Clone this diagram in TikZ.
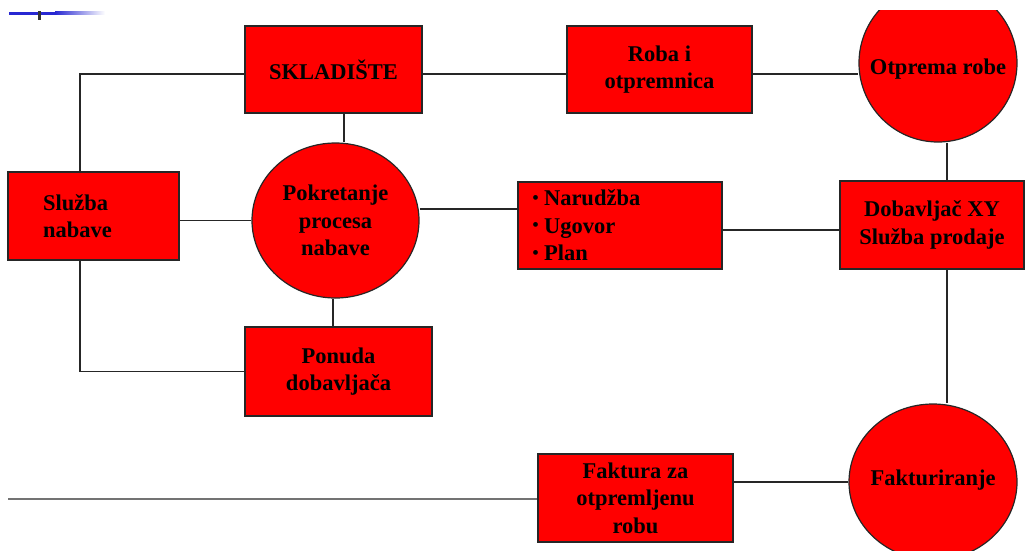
\documentclass[tikz,border=0pt]{standalone}
\usepackage{fontspec}
\setmainfont{Liberation Serif}
\usetikzlibrary{shapes.geometric}
\definecolor{boxred}{RGB}{255,0,0}
\definecolor{artblue}{RGB}{40,40,210}
\newcommand{\smbul}{\raisebox{1.5pt}{\mdseries\fontsize{20}{20}\selectfont•}\hspace{5pt}}
\begin{document}
\begin{tikzpicture}[x=1pt,y=-1pt,
  txt/.style={font=\bfseries\fontsize{22.5}{27.5}\selectfont, align=center, text=black},
  box/.style={txt, draw=black!85, line width=1.2pt, fill=boxred, inner sep=0pt},
  circ/.style={ellipse, draw=black!85, line width=1.2pt, fill=boxred, inner sep=0pt},
  conn/.style={line width=1.3pt, draw=black!85},
  grayline/.style={line width=2.8pt, draw=black!55}]
\useasboundingbox (0,0) rectangle (1026,550);
% slide artefact top left
\fill[artblue] (9,11.5) rectangle (55,14.5);
\shade[left color=artblue, right color=white] (55,11.5) rectangle (105,14.5);
\fill[black!80] (37.5,10.5) rectangle (40.5,20);
\begin{scope}
\clip (0,10) rectangle (1026,550);
\node[box, minimum width=177pt, minimum height=87pt] (skl) at (333.5,69.5) {SKLADIŠTE};
\node[box, minimum width=185pt, minimum height=87pt] (roba) at (659.5,69.5) {Roba i\\otpremnica};
\node[circ, minimum width=158pt, minimum height=158pt,
  label={[txt, yshift=-6pt]center:Otprema robe}] (otp) at (938,63) {};
\node[box, align=left, text width=101pt, inner xsep=35pt, minimum height=88pt] (sluz) at (93.5,216) {Služba\\nabave};
\node[circ, minimum width=167pt, minimum height=155pt,
  label={[txt]center:Pokretanje\\procesa\\nabave}] (pok) at (335.5,220.5) {};
\node[box, align=left, text width=176pt, inner xsep=14pt, minimum height=87pt] (nar) at (620,225.5)
  {\smbul Narudžba\\\smbul Ugovor\\\smbul Plan};
\node[box, minimum width=184pt, minimum height=88pt] (dob) at (932,225) {Dobavljač XY\\Služba prodaje};
\node[box, minimum width=187pt, minimum height=89pt] (pon) at (338.5,371.5) {Ponuda\\dobavljača};
\node[box, minimum width=195pt, minimum height=88pt] (fak) at (635.5,498) {Faktura za\\otpremljenu\\robu};
\node[circ, minimum width=168pt, minimum height=156pt,
  label={[txt, yshift=2pt]center:Fakturiranje}] (fakt) at (933,482) {};
% connectors
\draw[conn] ([xshift=-13.5pt]sluz.north) |- ([yshift=-4.5pt]skl.west);
\draw[conn] ([xshift=-13.5pt]sluz.south) |- (pon.west);
\draw[conn] ([yshift=-4.5pt]skl.east) -- ([yshift=-4.5pt]roba.west);
\draw[conn] ([yshift=-4.5pt]roba.east) -- ([yshift=-4.5pt]roba.east -| otp.west);
\draw[conn] ([xshift=10.5pt]skl.south) -- ([xshift=10.5pt]skl.south |- pok.north);
\draw[conn] (pok.west) -- (pok.west -| sluz.east);
\draw[conn] ([yshift=16.5pt]nar.west) -- ([yshift=16.5pt]nar.west -| pok.east);
\draw[conn] ([yshift=-5pt]dob.west) -- ([yshift=-5pt]dob.west -| nar.east);
\draw[conn] ([xshift=15pt]dob.north) -- ([xshift=15pt]dob.north |- otp.south);
\draw[conn] ([xshift=15pt]dob.south) -- ([xshift=15pt]dob.south |- fakt.north);
\draw[conn] (fakt.west) -- (fakt.west -| fak.east);
\draw[conn] ([xshift=-5.5pt]pon.north) -- ([xshift=-5.5pt]pon.north |- pok.south);
\coordinate (gl) at (8,499);
\draw[grayline] (gl) -- (gl -| fak.west);
\end{scope}
\end{tikzpicture}
\end{document}
